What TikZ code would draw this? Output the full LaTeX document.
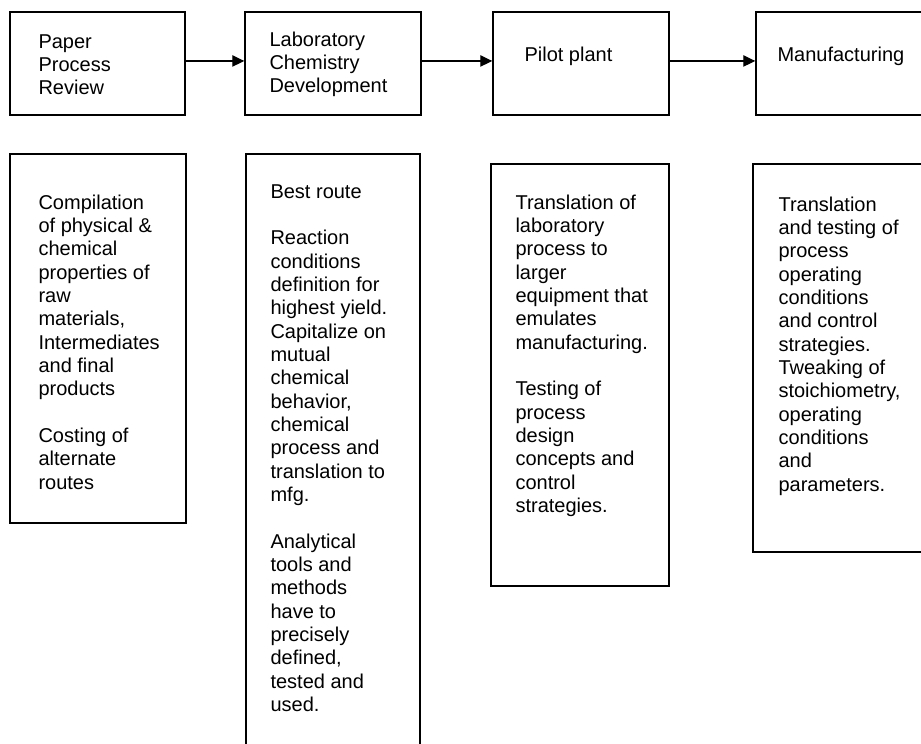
\documentclass[tikz,border=0pt]{standalone}
\usepackage{fontspec}
\setmainfont{Liberation Sans}
\usetikzlibrary{arrows.meta,positioning,fit}

\begin{document}
\begin{tikzpicture}[x=0.75pt,y=-0.75pt,>={Triangle[length=9pt,width=8.5pt]},
  box/.style={draw,line width=1.1pt,inner sep=0pt},
  txt/.style={anchor=north west,align=left,inner sep=0pt,font=\fontsize{15pt}{17.5pt}\selectfont}]
  \useasboundingbox (0,0) rectangle (921,743);
  \node[box,fit={(10,12) (185,115)}] (paper) {};
  \node[box,fit={(245,12) (421,115)}] (lab) {};
  \node[box,fit={(493,12) (669,115)}] (pilot) {};
  \node[box,fit={(756,12) (940,115)}] (mfg) {};
  \draw[->,line width=1pt] ([yshift=1.9pt]paper.east) -- ([yshift=1.9pt]lab.west);
  \draw[->,line width=1pt] ([yshift=1.9pt]lab.east) -- ([yshift=1.9pt]pilot.west);
  \draw[->,line width=1pt] ([yshift=1.9pt]pilot.east) -- ([yshift=1.9pt]mfg.west);
  \node[txt] (paper-t) at ([shift={(29,23)}]paper.north west) {Paper\\Process\\Review};
  \node[txt] (lab-t) at ([shift={(25,20)}]lab.north west) {Laboratory\\Chemistry\\Development};
  \node[txt] (pilot-t) at ([shift={(32,35)}]pilot.north west) {Pilot plant};
  \node[txt] (mfg-t) at ([shift={(22,35)}]mfg.north west) {Manufacturing};
  \node[box,fit={(10,154) (186,523)}] (paperd) {};
  \node[box,fit={(246,154) (420,760)}] (labd) {};
  \node[box,fit={(491,164) (669,586)}] (pilotd) {};
  \node[box,fit={(753,164) (940,552)}] (mfgd) {};
  \node[txt] (paperd-t) at ([shift={(29,41)}]paperd.north west)
    {Compilation\\of physical \&\\chemical\\properties of\\raw\\materials,\\Intermediates\\and final\\products\\[17.5pt]Costing of\\alternate\\routes};
  \node[txt] (labd-t) at ([shift={(25,31)}]labd.north west)
    {Best route\\[17.5pt]Reaction\\conditions\\definition for\\highest yield.\\Capitalize on\\mutual\\chemical\\behavior,\\chemical\\process and\\translation to\\mfg.\\[17.5pt]Analytical\\tools and\\methods\\have to\\precisely\\defined,\\tested and\\used.};
  \node[txt] (pilotd-t) at ([shift={(25,31)}]pilotd.north west)
    {Translation of\\laboratory\\process to\\larger\\equipment that\\emulates\\manufacturing.\\[17.5pt]Testing of\\process\\design\\concepts and\\control\\strategies.};
  \node[txt] (mfgd-t) at ([shift={(26,33)}]mfgd.north west)
    {Translation\\and testing of\\process\\operating\\conditions\\and control\\strategies.\\Tweaking of\\stoichiometry,\\operating\\conditions\\and\\parameters.};
\end{tikzpicture}
\end{document}
